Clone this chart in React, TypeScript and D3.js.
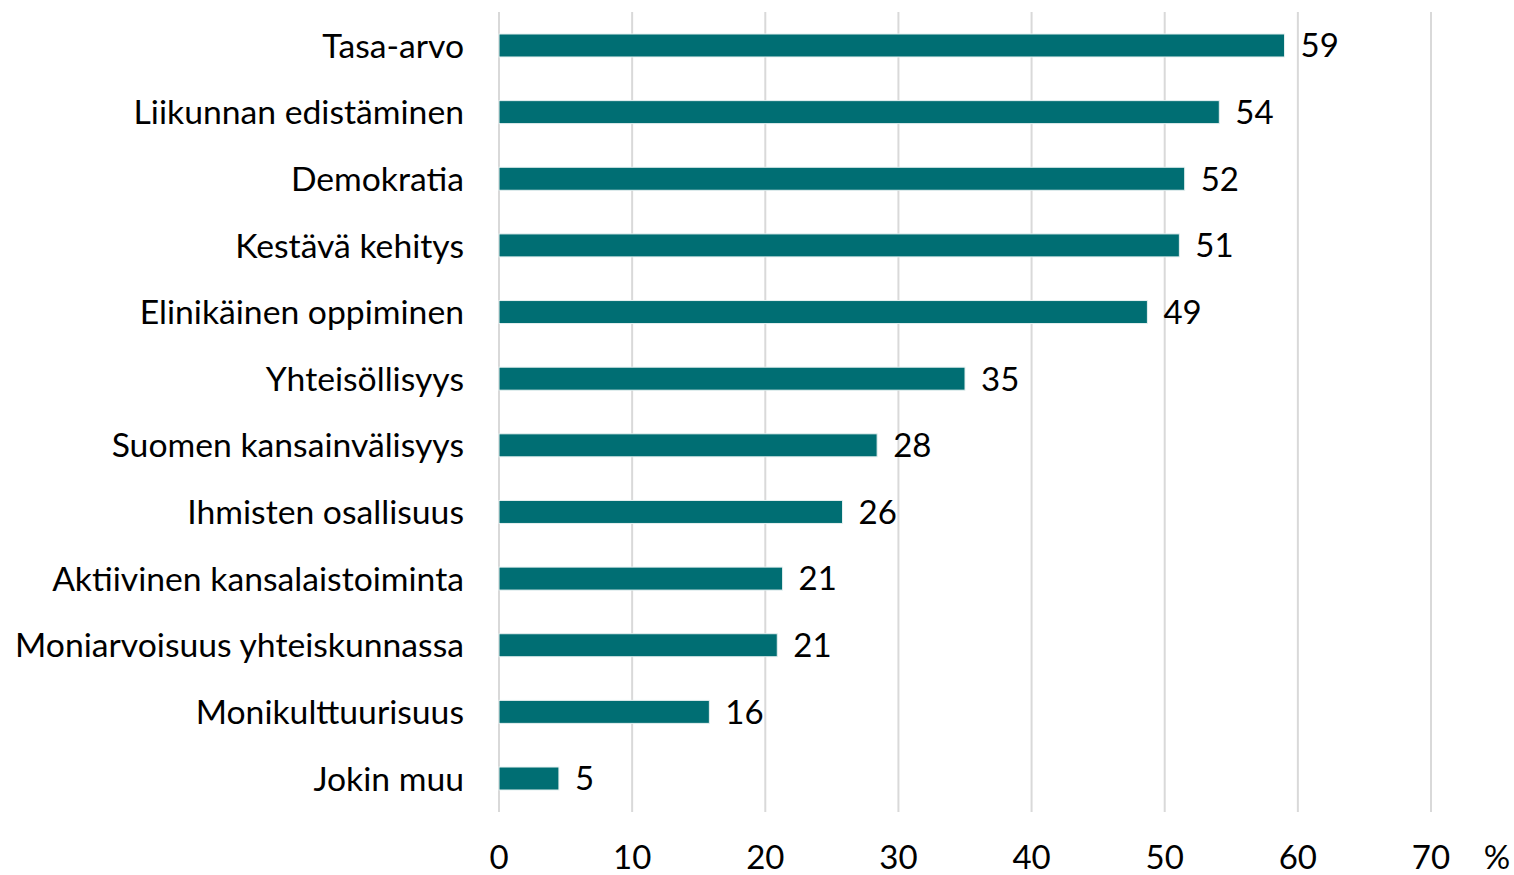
import React from 'react';
import * as d3 from 'd3';

const categories = [
  'Tasa-arvo',
  'Liikunnan edistäminen',
  'Demokratia',
  'Kestävä kehitys',
  'Elinikäinen oppiminen',
  'Yhteisöllisyys',
  'Suomen kansainvälisyys',
  'Ihmisten osallisuus',
  'Aktiivinen kansalaistoiminta',
  'Moniarvoisuus yhteiskunnassa',
  'Monikulttuurisuus',
  'Jokin muu',
];
const values = [59, 54.1, 51.5, 51.1, 48.7, 35, 28.4, 25.8, 21.3, 20.9, 15.8, 4.5];
const ticks = [0, 10, 20, 30, 40, 50, 60, 70];

const W = 1514;
const H = 875;
const FONT = 'Lato, "Open Sans", sans-serif';

export default function App() {
  // plot area
  const left = 499;
  const right = 1431;
  const top = 12;
  const bottom = 812;

  const x = d3.scaleLinear().domain([0, 70]).range([left, right]);
  const y = d3
    .scaleBand<string>()
    .domain(categories)
    .range([top, bottom])
    .paddingInner(0.655)
    .paddingOuter(0.33);

  return (
    <svg
      width={W}
      height={H}
      style={{ position: 'absolute', left: 0, top: 0, background: '#fff' }}
      fontFamily={FONT}
    >
      {/* gridlines */}
      {ticks.map((t) => (
        <line
          key={'g' + t}
          x1={x(t)}
          x2={x(t)}
          y1={top}
          y2={bottom}
          stroke="#d9d9d9"
          strokeWidth={2}
        />
      ))}

      {/* bars + value labels */}
      {categories.map((c, i) => {
        const by = y(c) as number;
        const bh = y.bandwidth();
        return (
          <g key={c}>
            <rect
              x={x(0)}
              y={by}
              width={x(values[i]) - x(0)}
              height={bh}
              fill="#006e73"
              stroke="#e6f0f0"
              strokeWidth={1}
            />
            <text
              x={x(values[i]) + 16}
              y={by + bh / 2}
              dy="0.36em"
              fontSize={33}
              fill="#000"
            >
              {Math.round(values[i])}
            </text>
            <text
              x={464}
              y={by + bh / 2}
              dy="0.36em"
              textAnchor="end"
              fontSize={33.7}
              fill="#000"
            >
              {c}
            </text>
          </g>
        );
      })}

      {/* x tick labels */}
      {ticks.map((t) => (
        <text
          key={'t' + t}
          x={x(t)}
          y={869}
          textAnchor="middle"
          fontSize={33}
          fill="#000"
        >
          {t}
        </text>
      ))}
      <text x={1497} y={869} textAnchor="middle" fontSize={33} fill="#000">
        %
      </text>
    </svg>
  );
}
